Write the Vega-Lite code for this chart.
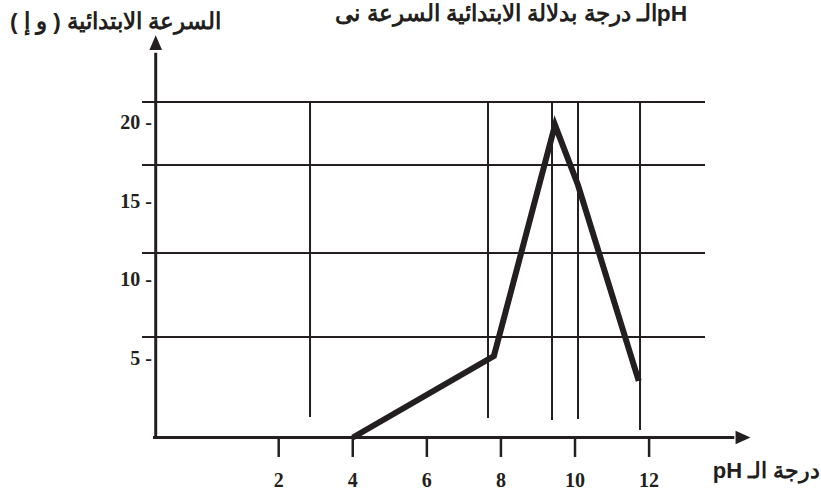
{
  "$schema": "https://vega.github.io/schema/vega-lite/v6.json",
  "width": 821,
  "height": 498,
  "autosize": {"type": "none"},
  "padding": 0,
  "background": "white",
  "config": {"view": {"stroke": null}},
  "encoding": {
    "x": {"type": "quantitative", "scale": {"domain": [-5.524, 16.641], "nice": false, "zero": false}, "axis": null},
    "y": {"type": "quantitative", "scale": {"domain": [-3.854, 27.866], "nice": false, "zero": false}, "axis": null}
  },
  "layer": [
    {
      "data": {"values": [{"level": 21.37}, {"level": 17.36}, {"level": 11.75}, {"level": 6.40}]},
      "mark": {"type": "rule", "color": "#231f20", "strokeWidth": 2},
      "encoding": {"y": {"field": "level", "type": "quantitative"}, "x": {"datum": -1.69}, "x2": {"datum": 13.51}}
    },
    {
      "data": {"values": [
        {"ph": 2.846, "top": 21.43, "bottom": 1.306},
        {"ph": 7.651, "top": 21.43, "bottom": 1.242},
        {"ph": 9.379, "top": 21.43, "bottom": 1.115},
        {"ph": 10.081, "top": 21.43, "bottom": 1.178},
        {"ph": 11.755, "top": 21.43, "bottom": 0.478}
      ]},
      "mark": {"type": "rule", "color": "#231f20", "strokeWidth": 2},
      "encoding": {"x": {"field": "ph", "type": "quantitative"}, "y": {"field": "top", "type": "quantitative"}, "y2": {"field": "bottom"}}
    },
    {
      "data": {"values": [{"a": 1}]},
      "mark": {"type": "rule", "color": "#231f20", "strokeWidth": 3},
      "encoding": {"x": {"datum": -1.393}, "x2": {"datum": 14.3}, "y": {"datum": 0}}
    },
    {
      "data": {"values": [{"a": 1}]},
      "mark": {"type": "rule", "color": "#231f20", "strokeWidth": 3},
      "encoding": {"x": {"datum": -1.32}, "y": {"datum": -0.05}, "y2": {"datum": 24.5}}
    },
    {
      "data": {"values": [{"a": 1}]},
      "mark": {"type": "point", "filled": true, "color": "#231f20", "opacity": 1, "shape": "M-1,-0.9L1,0L-1,0.9Z", "size": 220},
      "encoding": {"x": {"datum": 14.535}, "y": {"datum": 0}}
    },
    {
      "data": {"values": [{"a": 1}]},
      "mark": {"type": "point", "filled": true, "color": "#231f20", "opacity": 1, "shape": "M-0.85,1L0,-1L0.85,1Z", "size": 220},
      "encoding": {"x": {"datum": -1.32}, "y": {"datum": 25.15}}
    },
    {
      "data": {"values": [{"ph": 2}, {"ph": 4}, {"ph": 6}, {"ph": 8}, {"ph": 10}, {"ph": 12}]},
      "layer": [
        {
          "mark": {"type": "rule", "color": "#231f20", "strokeWidth": 2.5},
          "encoding": {"x": {"field": "ph", "type": "quantitative"}, "y": {"datum": 0}, "y2": {"datum": -1.24}}
        },
        {
          "mark": {"type": "text", "font": "Liberation Serif", "fontWeight": "bold", "fontSize": 20, "color": "#231f20", "baseline": "middle", "align": "center"},
          "encoding": {"x": {"field": "ph", "type": "quantitative"}, "y": {"datum": -2.77}, "text": {"field": "ph", "type": "quantitative"}}
        }
      ]
    },
    {
      "data": {"values": [{"rate": 20, "label": "20 -"}, {"rate": 15, "label": "15 -"}, {"rate": 10, "label": "10 -"}, {"rate": 5, "label": "5 -"}]},
      "mark": {"type": "text", "font": "Liberation Serif", "fontWeight": "bold", "fontSize": 20, "color": "#231f20", "baseline": "middle", "align": "right"},
      "encoding": {"x": {"datum": -1.42}, "y": {"field": "rate", "type": "quantitative"}, "text": {"field": "label"}}
    },
    {
      "data": {"values": [
        {"ph": 4, "rate": 0},
        {"ph": 7.81, "rate": 5.19},
        {"ph": 9.46, "rate": 19.9},
        {"ph": 10.08, "rate": 16.08},
        {"ph": 11.72, "rate": 3.6}
      ]},
      "mark": {"type": "line", "color": "#231f20", "strokeWidth": 6, "strokeJoin": "miter", "strokeCap": "butt"},
      "encoding": {"x": {"field": "ph", "type": "quantitative"}, "y": {"field": "rate", "type": "quantitative"}, "order": {"field": "ph"}}
    },
    {
      "data": {"values": [{"t": "الـ درجة بدلالة الابتدائية السرعة نىpH"}]},
      "mark": {"type": "text", "font": "Liberation Sans", "fontWeight": "bold", "fontSize": 22.8, "color": "#231f20", "align": "right", "baseline": "alphabetic"},
      "encoding": {"x": {"datum": 13.03}, "y": {"datum": 26.5}, "text": {"field": "t"}}
    },
    {
      "data": {"values": [{"t": "السرعة الابتدائية ( و إ )"}]},
      "mark": {"type": "text", "font": "Liberation Sans", "fontWeight": "bold", "fontSize": 22.5, "color": "#231f20", "align": "center", "baseline": "middle"},
      "encoding": {"x": {"datum": -2.4}, "y": {"datum": 26.46}, "text": {"field": "t"}}
    },
    {
      "data": {"values": [{"t": "\u202Bدرجة الـ pH\u202C"}]},
      "mark": {"type": "text", "font": "Liberation Sans", "fontWeight": "bold", "fontSize": 22, "color": "#231f20", "align": "left", "baseline": "middle"},
      "encoding": {"x": {"datum": 13.72}, "y": {"datum": -2.13}, "text": {"field": "t"}}
    }
  ]
}
